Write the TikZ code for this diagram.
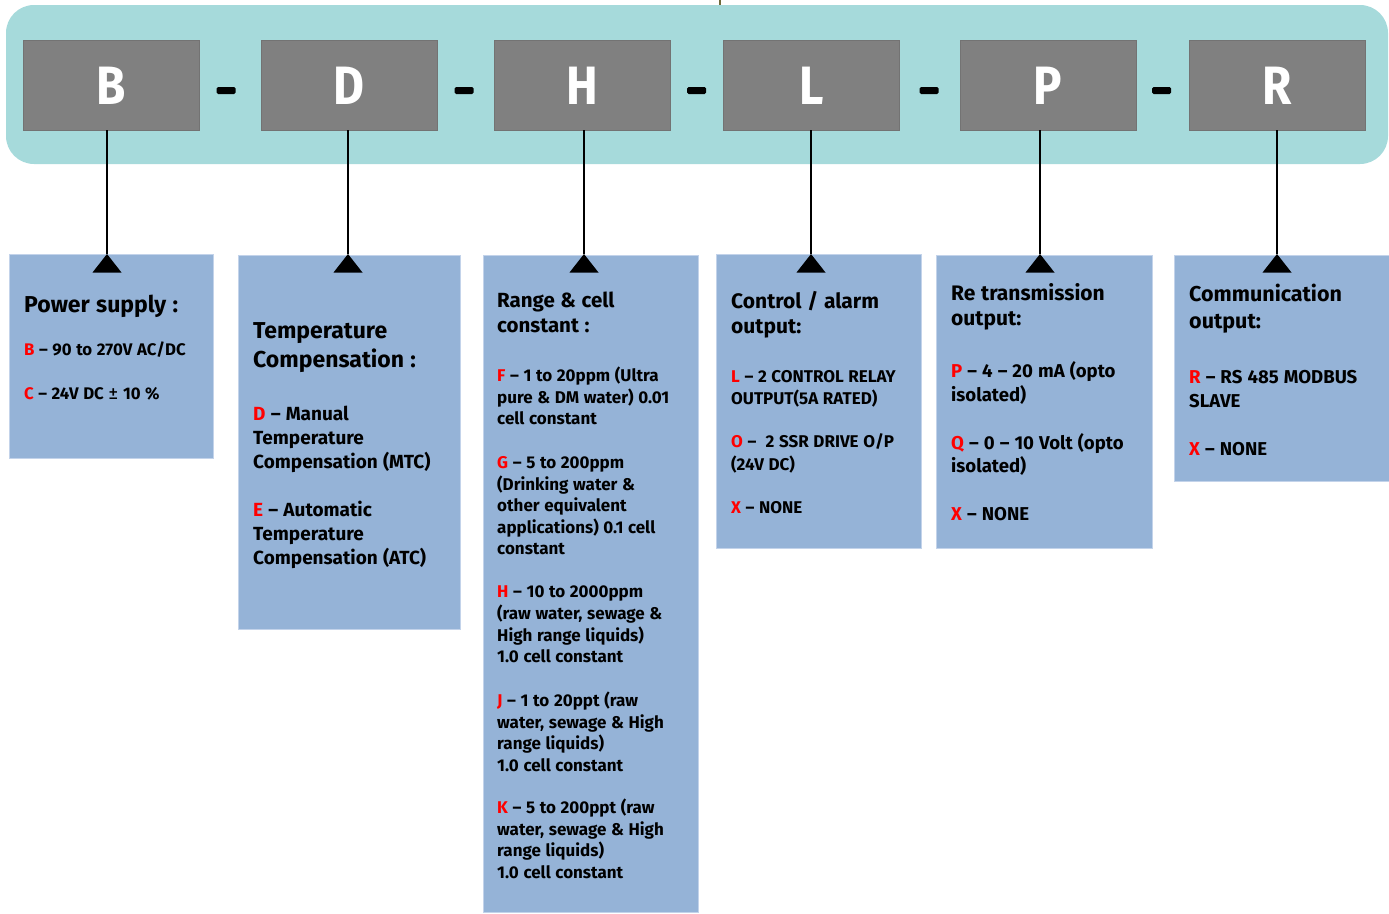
\documentclass[tikz,border=0pt]{standalone}
\usepackage{fontspec}
\setmainfont{Fira Sans}[WordSpace=1.15]
\newfontfamily\condfont{Fira Sans}[FakeStretch=0.88]
\definecolor{bandteal}{HTML}{A6DADB}
\definecolor{codegrey}{HTML}{808080}
\definecolor{optblue}{HTML}{95B3D7}
\definecolor{optedge}{HTML}{C3D3EA}
\definecolor{optred}{HTML}{FF0000}
\definecolor{tickolive}{HTML}{6E6A3A}
\tikzset{
  gbox/.style={fill=codegrey, draw=codegrey!90!black, line width=0.6, minimum width=176, minimum height=90, inner sep=0},
  glet/.style={text=white, font=\condfont\fontsize{54}{54}\selectfont\bfseries, inner sep=0, anchor=base},
  dashbar/.style={fill=black, minimum width=19, minimum height=7, inner sep=0, rounded corners=1.5},
  bbox/.style={fill=optblue, draw=optedge, line width=1.2, anchor=north west, inner sep=0},
  conn/.style={line width=2.8, black},
  txt/.style={anchor=base west, inner sep=0, text=black, font=\bfseries},
}
\newcommand\rd[1]{\textcolor{optred}{#1}}
\newcommand\tline[5]{\node[txt, font=\fontsize{#4}{#4}\selectfont\bfseries] (#1) at (#2,#3) {#5};}
\begin{document}
\begin{tikzpicture}[x=1pt,y=-1pt]
\useasboundingbox (0,0) rectangle (1389,913);
% top tick
\draw[tickolive, line width=1.5] (720,0) -- (720,6);
% band
\fill[bandteal, rounded corners=28] (6,5) rectangle (1388,164);
% code boxes
\node[gbox] (gB) at (111,85) {};
\node[gbox] (gD) at (349,85) {};
\node[gbox] (gH) at (582,85) {};
\node[gbox] (gL) at (811.5,85) {};
\node[gbox] (gP) at (1048,85) {};
\node[gbox] (gR) at (1277,85) {};
\node[glet] (lB) at (111,104) {B};
\node[glet] (lD) at (349,104) {D};
\node[glet] (lH) at (582,104) {H};
\node[glet] (lL) at (811.5,104) {L};
\node[glet] (lP) at (1048,104) {P};
\node[glet] (lR) at (1277,104) {R};
% dashes
\node[dashbar] (d1) at (226,90.5) {};
\node[dashbar] (d2) at (464,90.5) {};
\node[dashbar] (d3) at (696.5,90.5) {};
\node[dashbar] (d4) at (929,90.5) {};
\node[dashbar] (d5) at (1161.5,90.5) {};
% option boxes
\node[bbox, minimum width=204, minimum height=204] (b1) at (9,254) {};
\node[bbox, minimum width=222, minimum height=374] (b2) at (238,255) {};
\node[bbox, minimum width=215, minimum height=657] (b3) at (483,255) {};
\node[bbox, minimum width=205, minimum height=294] (b4) at (716,254) {};
\node[bbox, minimum width=216, minimum height=293] (b5) at (936,255) {};
\node[bbox, minimum width=216, minimum height=226] (b6) at (1174,255) {};
% connectors
\coordinate (aB) at (107,254);
\coordinate (aD) at (348,254);
\coordinate (aH) at (584,254);
\coordinate (aL) at (811,254);
\coordinate (aP) at (1040,254);
\coordinate (aR) at (1277,254);
\foreach \k in {B,D,H,L,P,R}{
  \draw[conn] (g\k.south -| a\k) -- (a\k);
  \fill[black] (a\k) -- ++(14.5,18.5) -- ++(-29,0) -- cycle;
}
% box 1
\tline{t11}{24}{312}{23}{Power supply :}
\tline{t12}{24}{355}{16.8}{\rd{B} – 90 to 270V AC/DC}
\tline{t13}{24}{399}{16.8}{\rd{C} – 24V DC {\mdseries\fontsize{20}{20}\selectfont ±} 10 \%}
% box 2
\tline{t21}{253}{338}{23}{Temperature}
\tline{t22}{253}{367}{23}{Compensation :}
\tline{t23}{253}{420}{19}{\rd{D} – Manual}
\tline{t24}{253}{444}{19}{Temperature}
\tline{t25}{253}{468}{19}{Compensation (MTC)}
\tline{t26}{253}{516}{19}{\rd{E} – Automatic}
\tline{t27}{253}{540}{19}{Temperature}
\tline{t28}{253}{564}{19}{Compensation (ATC)}
% box 3
\tline{t31}{497}{307}{20.5}{Range \& cell}
\tline{t32}{497}{332}{20.5}{constant :}
\tline{t33}{497}{381}{17}{\rd{F} – 1 to 20ppm (Ultra}
\tline{t34}{497}{403}{17}{pure \& DM water) 0.01}
\tline{t35}{497}{424}{17}{cell constant}
\tline{t36}{497}{468}{17}{\rd{G} – 5 to 200ppm}
\tline{t37}{497}{490}{17}{(Drinking water \&}
\tline{t38}{497}{511}{17}{other equivalent}
\tline{t39}{497}{533}{17}{applications) 0.1 cell}
\tline{t310}{497}{554}{17}{constant}
\tline{t311}{497}{597}{17}{\rd{H} – 10 to 2000ppm}
\tline{t312}{497}{619}{17}{(raw water, sewage \&}
\tline{t313}{497}{641}{17}{High range liquids)}
\tline{t314}{497}{662}{17}{1.0 cell constant}
\tline{t315}{497}{706}{17}{\rd{J} – 1 to 20ppt (raw}
\tline{t316}{497}{728}{17}{water, sewage \& High}
\tline{t317}{497}{749}{17}{range liquids)}
\tline{t318}{497}{771}{17}{1.0 cell constant}
\tline{t319}{497}{813}{17}{\rd{K} – 5 to 200ppt (raw}
\tline{t320}{497}{835}{17}{water, sewage \& High}
\tline{t321}{497}{856}{17}{range liquids)}
\tline{t322}{497}{878}{17}{1.0 cell constant}
% box 4
\tline{t41}{731}{308}{21}{Control / alarm}
\tline{t42}{731}{333}{21}{output:}
\tline{t43}{731}{382}{17}{\rd{L} – 2 CONTROL RELAY}
\tline{t44}{731}{404}{17}{OUTPUT(5A RATED)}
\tline{t45}{731}{447}{17}{\rd{O} – \ 2 SSR DRIVE O/P}
\tline{t46}{731}{470}{17}{(24V DC)}
\tline{t47}{731}{513}{17}{\rd{X} – NONE}
% box 5
\tline{t51}{951}{300}{21}{Re transmission}
\tline{t52}{951}{325}{21}{output:}
\tline{t53}{951}{377}{18.6}{\rd{P} – 4 – 20 mA (opto}
\tline{t54}{951}{401}{18.6}{isolated)}
\tline{t55}{951}{449}{18.6}{\rd{Q} – 0 – 10 Volt (opto}
\tline{t56}{951}{472}{18.6}{isolated)}
\tline{t57}{951}{520}{18.6}{\rd{X} – NONE}
% box 6
\tline{t61}{1189}{301}{21.5}{Communication}
\tline{t62}{1189}{328}{21.5}{output:}
\tline{t63}{1189}{383}{18.6}{\rd{R} – RS 485 MODBUS}
\tline{t64}{1189}{407}{18.6}{SLAVE}
\tline{t65}{1189}{455}{18.6}{\rd{X} – NONE}
\end{tikzpicture}
\end{document}
